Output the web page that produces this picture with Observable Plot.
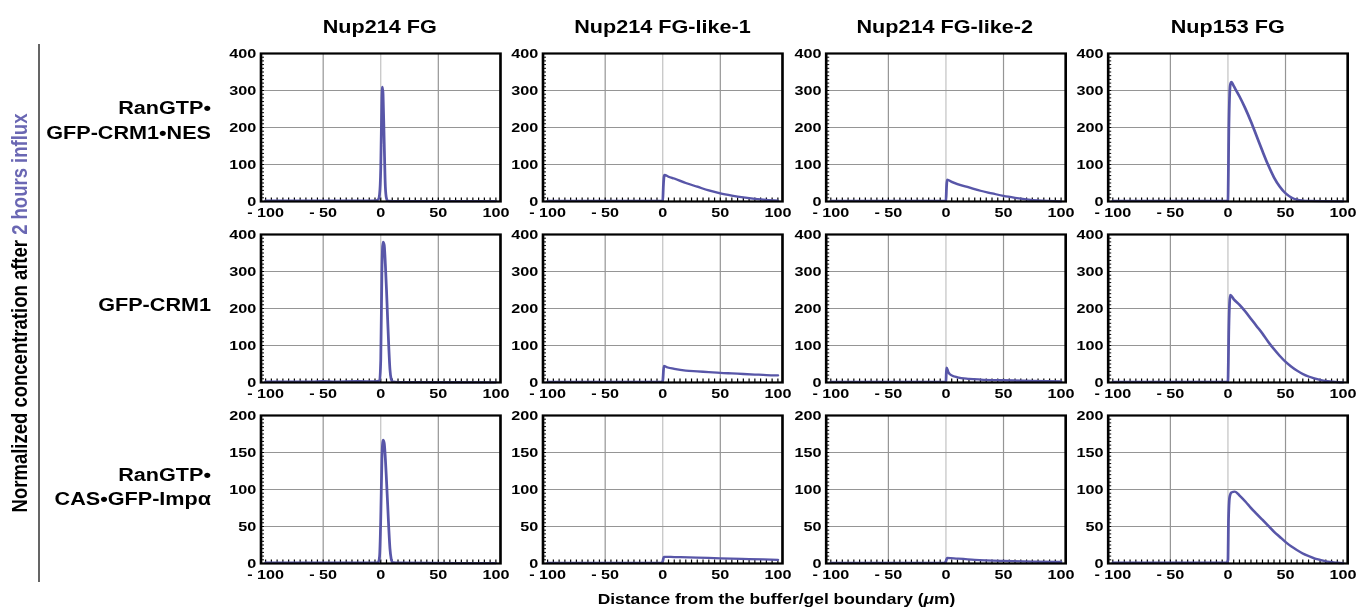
<!DOCTYPE html>
<html><head><meta charset="utf-8">
<script src="https://cdn.jsdelivr.net/npm/d3@7"></script>
<script src="https://cdn.jsdelivr.net/npm/@observablehq/plot@0.6"></script>
<style>
html,body{margin:0;padding:0;background:#fff;overflow:hidden}
#root{position:relative;width:1132.5px;height:613px;transform:scaleX(1.2);transform-origin:0 0;font-family:"Liberation Sans",Arial,Helvetica,sans-serif;font-weight:bold;color:#000}
.t{position:absolute;white-space:nowrap}
</style></head><body><div id="root"></div><script>
// ---- labels ----
const columns = ["Nup214 FG", "Nup214 FG-like-1", "Nup214 FG-like-2", "Nup153 FG"];
const rowLabels = [["RanGTP•", "GFP-CRM1•NES"], ["GFP-CRM1"], ["RanGTP•", "CAS•GFP-Impα"]];
const yLabelMain = "Normalized concentration after ";
const yLabelColored = "2 hours influx";
const xLabelPre = "Distance from the buffer/gel boundary (", xLabelMu = "μ", xLabelPost = "m)";

// ---- ticks ----
const xTicks = [-100, -50, 0, 50, 100];
const xGrid = [-50, 50];
const xZeroGrid = [0];
const yTicksTall = [0, 100, 200, 300, 400];
const yGridTall = [100, 200, 300];
const yTicksShort = [0, 50, 100, 150, 200];
const yGridShort = [50, 100, 150];

// ---- series: [distance µm, normalized concentration] ----
// Row 1: RanGTP•GFP-CRM1•NES
const nes_nup214FG = [[-100,2.5],[-10,2.5],[-4,3],[-2,6],[-1,20],[0,90],[1,280],[1.5,310],[2,290],[3,160],[4,40],[5,8],[6,2],[10,1],[100,1]];
const nes_like1 = [[-100,1.5],[-1,1.5],[0,2],[0.5,40],[1.5,72],[5,67],[10,62],[20,50],[30,40],[40,30],[50,22],[60,16],[70,11],[80,7],[90,4],[100,2]];
const nes_like2 = [[-100,1.5],[-1,1.5],[0,2],[0.5,38],[1,59],[5,53],[10,47],[20,38],[30,29],[40,22],[50,15],[60,10],[70,6],[80,3],[90,1.5],[100,0.5]];
const nes_nup153FG = [[-100,1.5],[-1,1.5],[0,5],[0.8,200],[2,315],[3,323],[5,312],[10,284],[15,252],[20,216],[25,176],[30,136],[35,98],[40,65],[45,40],[50,22],[55,11],[60,5],[65,2.5],[70,1.5],[100,0.5]];
// Row 2: GFP-CRM1
const crm1_nup214FG = [[-100,2.5],[-60,2.5],[-50,3.5],[-40,2.5],[-20,3.5],[-5,3],[-1,5],[0,60],[1,300],[2,380],[3,372],[4,320],[5,250],[6,170],[7,95],[8,35],[9,10],[10,3],[15,1],[100,0.5]];
const crm1_like1 = [[-100,1.5],[-1,1.5],[0,5],[1,45],[3,42],[10,37],[20,32],[30,30],[40,28],[50,26],[60,24.5],[70,23],[80,21.5],[90,20],[100,19]];
const crm1_like2 = [[-100,1.5],[-1,1.5],[0,3],[0.5,40],[2,28],[5,19],[10,14],[20,10],[30,8],[50,6],[75,4],[100,3]];
const crm1_nup153FG = [[-100,1.5],[-1,1.5],[0,5],[0.8,150],[2,237],[5,225],[10,210],[15,192],[20,172],[25,152],[30,132],[35,110],[40,90],[45,72],[50,56],[55,43],[60,32],[65,23],[70,16],[75,11],[80,7],[85,4],[90,2.5],[95,1.2],[100,0.5]];
// Row 3: RanGTP•CAS•GFP-Impα
const cas_nup214FG = [[-100,1.2],[-5,1.2],[-2,2],[-1,10],[0,60],[1,140],[2,167],[3,163],[4,142],[5,112],[6,80],[7,47],[8,20],[9,7],[10,2],[15,1],[100,0.5]];
const cas_like1 = [[-100,0.8],[-1,0.8],[0,3],[1,9],[10,8.7],[30,8],[50,7],[75,6],[100,5]];
const cas_like2 = [[-100,0.8],[-1,0.8],[0,3],[1,7.5],[10,6.5],[25,5],[50,3.5],[75,2.5],[100,2]];
const cas_nup153FG = [[-100,1],[-1,1],[0,5],[0.5,60],[1.5,90],[3,96],[6,97],[10,92],[15,84],[20,75],[25,67],[30,59],[35,51],[40,43],[45,36],[50,29],[55,23],[60,18],[65,13.5],[70,10],[75,7],[80,5],[85,3],[90,2],[95,1],[100,0.5]];

const panelData = [
  [nes_nup214FG, nes_like1, nes_like2, nes_nup153FG],
  [crm1_nup214FG, crm1_like1, crm1_like2, crm1_nup153FG],
  [cas_nup214FG, cas_like1, cas_like2, cas_nup153FG]
];
const rowYTicks = [yTicksTall, yTicksTall, yTicksShort];
const rowYGrid = [yGridTall, yGridTall, yGridShort];

// ---- layout ----
const S = 1.2;
const root = document.getElementById("root");
const colLeft = [260, 542.7, 825, 1108], frameW = 239.5;
const rowTop = [53, 234, 415], frameH = 148;
const ML = 40, MR = 18, MT = 8, MB = 24;
const fw = frameW / S;
const lineColor = "#5856a8";
const fmtX = d => d < 0 ? "- " + (-d) : String(d);

panelData.forEach((row, i) => {
  const yT = rowYTicks[i];
  const yMax = yT[yT.length - 1];
  const yMinor = d3.range(0, yMax + 0.1, yMax / 40);
  row.forEach((data, j) => {
    const svg = Plot.plot({
      width: ML + fw + MR,
      height: MT + frameH + MB,
      marginLeft: ML, marginRight: MR, marginTop: MT, marginBottom: MB,
      x: {domain: [-104, 104], label: null},
      y: {domain: [0, yMax], label: null},
      style: {fontFamily: "'Liberation Sans', Arial, sans-serif", fontSize: "13.5px", fontWeight: "bold", color: "#000", background: "transparent", overflow: "visible", maxWidth: "none"},
      marks: [
        Plot.gridX(xGrid, {stroke: "#959595", strokeOpacity: 1, strokeWidth: 1}),
        Plot.gridX(xZeroGrid, {stroke: "#c2c2c2", strokeOpacity: 1, strokeWidth: 1}),
        Plot.gridY(rowYGrid[i], {stroke: "#959595", strokeOpacity: 1, strokeWidth: 1}),
        Plot.axisX(d3.range(-100, 101, 5), {anchor: "bottom", tickSize: 3.5, dy: -3.5, fill: "none", label: null}),
        Plot.axisY(yMinor, {anchor: "left", tickSize: 3, dx: 3, fill: "none", label: null}),
        Plot.line(data, {x: d => d[0], y: d => d[1], stroke: lineColor, strokeWidth: 2.3, curve: "monotone-x"}),
        Plot.frame({stroke: "#000", strokeWidth: 2.2}),
        Plot.axisX(xTicks, {anchor: "bottom", tickSize: 0, tickPadding: 5.5, tickFormat: fmtX, label: null}),
        Plot.axisY(yT, {anchor: "left", tickSize: 0, tickPadding: 4, label: null})
      ]
    });
    const wrap = document.createElement("div");
    wrap.style.cssText = `position:absolute;left:${colLeft[j] / S - ML}px;top:${rowTop[i] - MT}px;`;
    wrap.appendChild(svg);
    root.appendChild(wrap);
  });
});

// ---- text helpers ----
function addText(parts, x, base, size, anchor) {
  const d = document.createElement("div");
  d.className = "t";
  d.style.fontSize = size + "px";
  d.style.lineHeight = size + "px";
  d.style.top = (base - 0.8465 * size) + "px";
  const xu = x / S;
  if (anchor === "end") { d.style.left = (xu - 1000) + "px"; d.style.width = "1000px"; d.style.textAlign = "right"; }
  else if (anchor === "middle") { d.style.left = (xu - 500) + "px"; d.style.width = "1000px"; d.style.textAlign = "center"; }
  else d.style.left = xu + "px";
  parts.forEach(p => {
    const s = document.createElement("span");
    if (typeof p === "string") s.textContent = p;
    else { s.textContent = p.t; if (p.italic) s.style.fontStyle = "italic"; if (p.color) s.style.color = p.color; }
    d.appendChild(s);
  });
  root.appendChild(d);
  return d;
}

// column titles
columns.forEach((c, j) => addText([c], colLeft[j] + frameW / 2, 33.5, 18, "middle"));

// row labels
const rowBaselines = [[114, 139.3], [311.5], [481, 505.5]];
rowLabels.forEach((lines, i) => lines.forEach((l, k) => addText([l], 211, rowBaselines[i][k], 18, "end")));

// x-axis title
addText([xLabelPre, {t: xLabelMu, italic: true}, xLabelPost], 776.5, 604, 14.5, "middle");

// y-axis title (rotated)
const yl = document.createElement("div");
yl.className = "t";
yl.style.cssText = `position:absolute;left:${20 / S}px;top:312.5px;font-size:18.5px;line-height:18.5px;white-space:nowrap;transform:translate(-50%,-50%) rotate(-90deg);`;
const s1 = document.createElement("span"); s1.textContent = yLabelMain;
const s2 = document.createElement("span"); s2.textContent = yLabelColored; s2.style.color = "#6a67b3";
yl.appendChild(s1); yl.appendChild(s2);
root.appendChild(yl);

// vertical rule next to the y title
const vr = document.createElement("div");
vr.style.cssText = `position:absolute;left:${38 / S}px;top:44px;width:1px;height:537.5px;background:#000;`;
root.appendChild(vr);
</script></body></html>
